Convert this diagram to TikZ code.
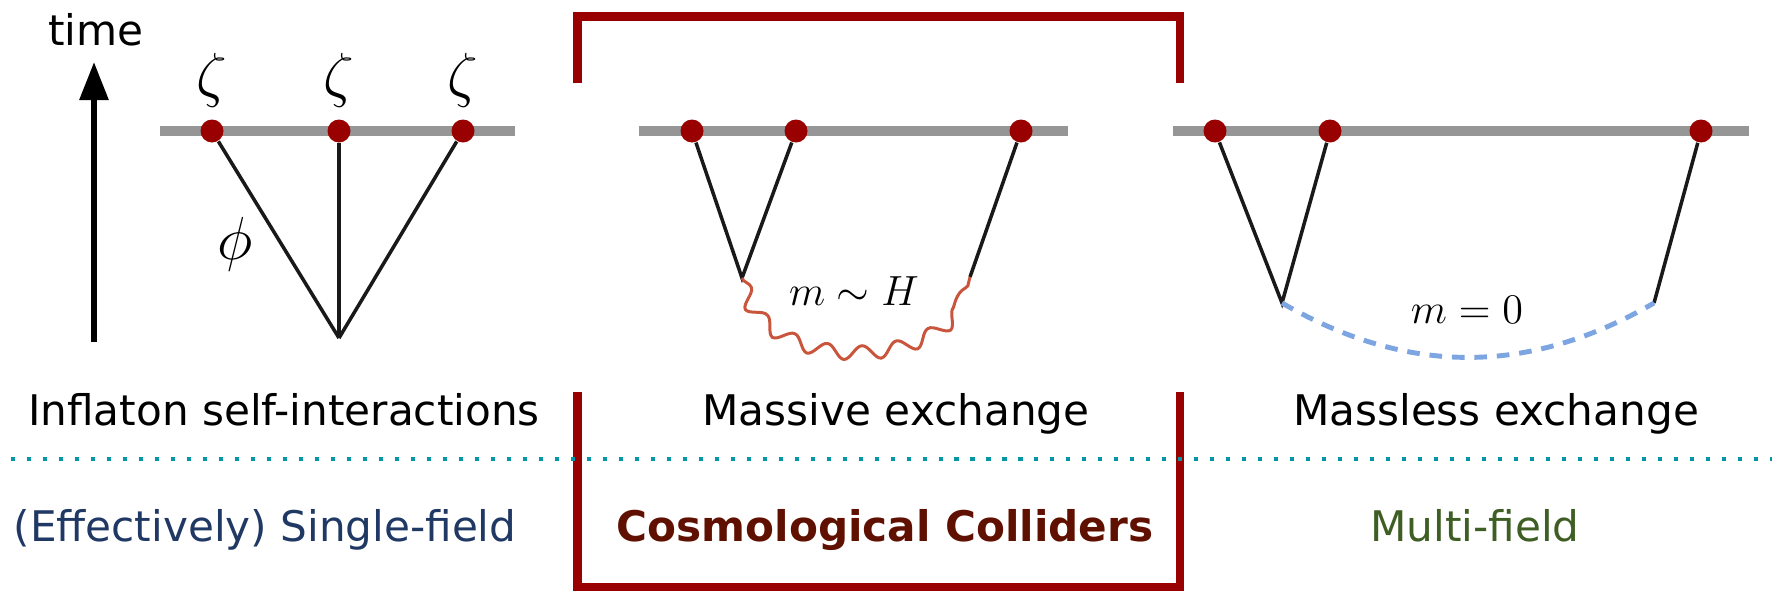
\documentclass[tikz,border=0pt]{standalone}
\usepackage[no-math]{fontspec}
\setmainfont{DejaVu Sans}
\usepackage{xcolor}
\usetikzlibrary{arrows.meta,decorations.pathmorphing}

\definecolor{ccred}{RGB}{153,0,0}
\definecolor{ccbrown}{RGB}{96,16,0}
\definecolor{sfblue}{RGB}{32,56,100}
\definecolor{mfgreen}{RGB}{62,94,35}
\definecolor{septeal}{RGB}{0,151,167}
\definecolor{wigred}{RGB}{200,85,60}
\definecolor{mlblue}{RGB}{125,165,225}
\definecolor{slice}{RGB}{150,150,150}

\begin{document}
\begin{tikzpicture}[
    >={Triangle[length=3.8mm,width=2.8mm]},
    every node/.style={font=\large},
    bar/.style={line width=2.85pt,slice},
    vtx/.style={circle,fill=ccred,inner sep=0pt,minimum size=2.3mm},
    prop/.style={line width=1pt,black!90},
    wig/.style={line width=0.85pt,wigred,decorate,
      decoration={snake,segment length=3.6mm,amplitude=0.7mm}},
    ml/.style={line width=1.4pt,mlblue,dash pattern=on 3.6pt off 2.8pt},
    brk/.style={line width=2.3pt,ccred},
    sep/.style={line width=1.15pt,septeal,dash pattern=on 1.15pt off 3.4pt},
    lbl/.style={anchor=base},
  ]
  \useasboundingbox (0,0) rectangle (17.72,5.91);
  \def\yb{4.60}

  % -- time axis --
  \node[lbl] (time) at (0.96,5.46) {time};
  \coordinate (t0) at (0.94,2.49);
  \coordinate (t1) at (0.94,5.29);
  \draw[->,line width=1.7pt] (t0) -- (t1);

  % -- the three late-time slices --
  \draw[bar] (1.60,\yb) -- (5.15,\yb);
  \draw[bar] (6.39,\yb) -- (10.68,\yb);
  \draw[bar] (11.73,\yb) -- (17.49,\yb);
  \foreach \n/\x in {a1/2.12,a2/3.39,a3/4.63,b1/6.92,b2/7.96,b3/10.21,c1/12.15,c2/13.30,c3/17.01}
    \node[vtx] (\n) at (\x,\yb) {};

  % -- inflaton self-interactions --
  \coordinate (v1) at (3.39,2.53);
  \foreach \n in {a1,a2,a3}{
    \path (\n) ++(0,0.51) node[font=\LARGE] (z\n) {$\zeta$};
    \draw[prop] (\n) -- (v1);
  }
  \node[font=\LARGE] (phi) at (2.35,3.47) {$\phi$};

  % -- massive exchange --
  \coordinate (v2) at (7.42,3.13);
  \coordinate (e2) at (9.70,3.14);
  \draw[prop] (b1) -- (v2) -- (b2);
  \draw[prop] (b3) -- (e2);
  \draw[wig] (v2) .. controls (7.62,2.25) and (9.45,2.25) .. (e2);
  \node (mh) at (8.54,3.00) {$m\sim H$};

  % -- massless exchange --
  \coordinate (v3) at (12.82,2.88);
  \coordinate (e3) at (16.54,2.88);
  \draw[prop] (c1) -- (v3) -- (c2);
  \draw[prop] (c3) -- (e3);
  \draw[ml] (v3) to[bend right=30] (e3);
  \node (m0) at (14.67,2.81) {$m=0$};

  % -- bracket round the collider column --
  \draw[brk] (5.775,5.08) |- (11.80,5.745) -- (11.80,5.08);
  \draw[brk] (5.775,1.99) |- (11.80,0.04) -- (11.80,1.99);

  % -- row labels --
  \draw[sep] (0.11,1.32) -- (17.72,1.32);
  \node[lbl] (self) at (2.84,1.66) {Inflaton self-interactions};
  \node[lbl] (mass) at (8.96,1.66) {Massive exchange};
  \node[lbl] (less) at (14.96,1.66) {Massless exchange};
  \node[lbl,sfblue] (sf) at (2.65,0.50) {(Effectively) Single-field};
  \node[lbl,ccbrown,font=\large\bfseries] (cc) at (8.85,0.50) {Cosmological Colliders};
  \node[lbl,mfgreen] (mf) at (14.75,0.50) {Multi-field};
\end{tikzpicture}
\end{document}
